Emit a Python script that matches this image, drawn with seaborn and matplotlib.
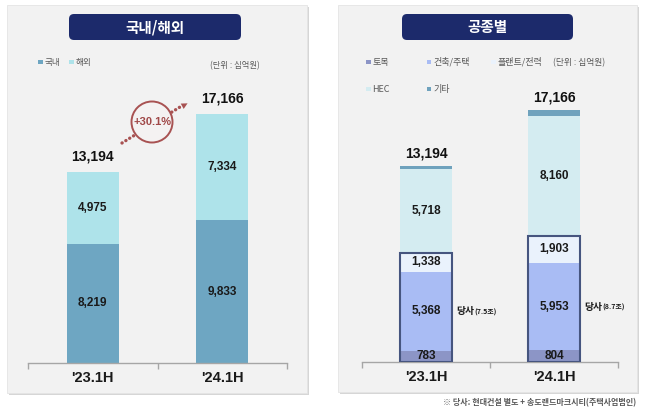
import numpy as np
import pandas as pd
import matplotlib
matplotlib.use("Agg")
import matplotlib.pyplot as plt
import matplotlib.patches as mpatches
from matplotlib.lines import Line2D
import seaborn as sns

# ---------------------------------------------------------------------------
# Data (십억원)
# ---------------------------------------------------------------------------
periods = ["'23.1H", "'24.1H"]

# 국내/해외
domestic = [8219, 9833]
overseas = [4975, 7334]
totals = [13194, 17166]
growth_label = "+30.1%"

# 공종별
civil = [783, 804]          # 토목
building = [5368, 5953]     # 건축/주택
plant = [1338, 1903]        # 플랜트/전력
hec = [5718, 8160]          # HEC
etc = [250, 450]            # 기타 (thin band)
own_labels = ["(7.5조)", "(8.7조)"]

C_DOM = "#6ea6c2"
C_OVS = "#aee3ea"
C_CIVIL = "#8c95c6"
C_BUILD = "#a9bcf4"
C_PLANT = "#eaf2fc"
C_HEC = "#d4ecf1"
C_ETC = "#6fa2bd"
NAVY = "#1c2a6b"
GRAY_TXT = "#595959"
RED = "#a85252"

sns.set_style("white")
plt.rcParams["font.family"] = ["Liberation Sans", "Noto Sans CJK KR"]

W, H = 645, 411
fig = plt.figure(figsize=(W / 100, H / 100), dpi=100)
fig.patch.set_facecolor("white")


def px(x, y):
    """top-left pixel -> inches (for dpi_scale_trans)"""
    return x / 100, (H - y) / 100


def panel(x0, y0, x1, y1):
    sx, sy = px(x0 + 2, y1 + 2)
    fig.add_artist(mpatches.Rectangle((sx, sy), (x1 - x0) / 100, (y1 - y0) / 100,
                                      transform=fig.dpi_scale_trans, fc="#d6d6d6",
                                      ec="none", zorder=-2))
    bx, by = px(x0, y1)
    fig.add_artist(mpatches.Rectangle((bx, by), (x1 - x0) / 100, (y1 - y0) / 100,
                                      transform=fig.dpi_scale_trans, fc="#f2f2f2",
                                      ec="#e4e4e4", lw=0.6, zorder=-1))


def title_box(x0, x1, text):
    bx, by = px(x0, 40)
    fig.add_artist(mpatches.FancyBboxPatch((bx, by), (x1 - x0) / 100, 0.26,
                                           boxstyle="round,pad=0,rounding_size=0.05",
                                           transform=fig.dpi_scale_trans, fc=NAVY,
                                           ec="none", zorder=-0.5))
    cx, cy = px((x0 + x1) / 2, 27)
    fig.text(cx / (W / 100), cy / (H / 100), text, color="white", fontsize=10.5,
             fontweight="bold", ha="center", va="center", family="Noto Sans CJK KR")


def legend_item(x, y, color, label, size=6.2):
    fig.add_artist(mpatches.Rectangle(px(x, y + 2.2), 0.045, 0.045,
                                      transform=fig.dpi_scale_trans, fc=color,
                                      ec="none", zorder=1))
    fig.text((x + 6.5) / W, 1 - y / H, label, color=GRAY_TXT, fontsize=size,
             ha="left", va="center", family="Noto Sans CJK KR")


def stacked(ax, layers):
    cum = np.cumsum([np.asarray(v, float) for v, _ in layers], axis=0)
    for k in range(len(layers) - 1, -1, -1):
        sns.barplot(x=periods, y=cum[k], color=layers[k][1], width=0.4,
                    saturation=1, errorbar=None, linewidth=0, ax=ax)
    return cum


def style_axis(ax):
    ax.set_facecolor("none")
    ax.set_zorder(2)
    ax.set_xlim(-0.5, 1.5)
    ax.set_ylim(0, 20000)
    for s in ["top", "left", "right"]:
        ax.spines[s].set_visible(False)
    ax.spines["bottom"].set_color("#a6a6a6")
    ax.spines["bottom"].set_linewidth(1)
    ax.set_yticks([])
    ax.set_xticks([0, 1])
    ax.set_xticklabels(periods, fontsize=10.5, fontweight="bold", color="#1a1a1a")
    ax.set_xticks([-0.5, 0.5, 1.5], minor=True)
    ax.tick_params(axis="x", which="major", length=0, pad=6, bottom=True)
    ax.tick_params(axis="x", which="minor", length=4, width=1, color="#a6a6a6",
                   direction="out", bottom=True)
    ax.set_xlabel("")
    ax.set_ylabel("")


# panels
panel(7, 5, 307, 393)
panel(338, 5, 637, 392)
title_box(69, 241, "국내/해외")
title_box(402, 573, "공종별")

# ---------------------------------------------------------------------------
# Left: 국내/해외
# ---------------------------------------------------------------------------
axL = fig.add_axes([28 / W, 48 / H, 259 / W, 290 / H])
cumL = stacked(axL, [(domestic, C_DOM), (overseas, C_OVS)])
style_axis(axL)
for i in range(2):
    axL.text(i, domestic[i] / 2, f"{domestic[i]:,}", ha="center", va="center",
             fontsize=8.5, fontweight="bold", color="#1a1a1a")
    axL.text(i, domestic[i] + overseas[i] / 2, f"{overseas[i]:,}", ha="center",
             va="center", fontsize=8.5, fontweight="bold", color="#1a1a1a")
    axL.annotate(f"{totals[i]:,}", (i, cumL[-1][i]), xytext=(0, 11),
                 textcoords="offset points", ha="center", va="center",
                 fontsize=10, fontweight="bold", color="#111111")

legend_item(38, 62, C_DOM, "국내")
legend_item(69, 62, C_OVS, "해외")
fig.text(210 / W, 1 - 66 / H, "(단위 : 십억원)", color=GRAY_TXT, fontsize=6,
         ha="left", va="center", family="Noto Sans CJK KR")

# growth arrow + circle
dotted = Line2D([1.22, 1.80], [(H - 143) / 100, (H - 107) / 100],
                transform=fig.dpi_scale_trans, color=RED, lw=2.4,
                linestyle=(0, (0.05, 1.3)), dash_capstyle="round", zorder=3)
fig.add_artist(dotted)
fig.add_artist(mpatches.FancyArrowPatch(px(179, 108), px(190, 102),
                                        transform=fig.dpi_scale_trans,
                                        arrowstyle="-|>", mutation_scale=11,
                                        color=RED, lw=0, zorder=3))
fig.add_artist(mpatches.Circle(px(152, 122), 0.205, transform=fig.dpi_scale_trans,
                               fc="#f4f2f2", ec=RED, lw=1.4, zorder=4))
cx, cy = px(152, 122)
fig.text(cx / (W / 100), cy / (H / 100), growth_label, color="#a04848",
         fontsize=8, fontweight="bold", ha="center", va="center", zorder=5)

# ---------------------------------------------------------------------------
# Right: 공종별
# ---------------------------------------------------------------------------
axR = fig.add_axes([362 / W, 49 / H, 256 / W, 292 / H])
layers = [(civil, C_CIVIL), (building, C_BUILD), (plant, C_PLANT),
          (hec, C_HEC), (etc, C_ETC)]
cumR = stacked(axR, layers)
style_axis(axR)
bottoms = np.vstack([np.zeros(2), cumR[:-1]])
for i in range(2):
    for k, (vals, _) in enumerate(layers[:4]):
        axR.text(i, bottoms[k][i] + vals[i] / 2, f"{vals[i]:,}", ha="center",
                 va="center", fontsize=8.5, fontweight="bold", color="#1a1a1a",
                 zorder=6)
    axR.add_patch(mpatches.Rectangle((i - 0.2, 0), 0.4, cumR[2][i], fill=False,
                                     ec="#46557f", lw=1.5, zorder=5))
    axR.annotate(f"{totals[i]:,}", (i, cumR[-1][i]), xytext=(0, 9),
                 textcoords="offset points", ha="center", va="center",
                 fontsize=10, fontweight="bold", color="#111111")
    y_own = civil[i] + building[i] / 2
    axR.annotate("당사", (i + 0.24, y_own), ha="left", va="center", fontsize=7,
                 fontweight="bold", color="#1a1a1a", family="Noto Sans CJK KR")
    axR.annotate(own_labels[i], (i + 0.24, y_own), xytext=(13, -0.5),
                 textcoords="offset points", ha="left", va="center", fontsize=5,
                 fontweight="bold", color="#1a1a1a", family="Noto Sans CJK KR")

legend_item(366, 62, C_CIVIL, "토목", 6.5)
legend_item(427, 62, C_BUILD, "건축/주택", 6.5)
legend_item(491, 62, C_PLANT, "플랜트/전력", 6.5)
legend_item(366, 89, C_HEC, "HEC", 6.5)
legend_item(427, 89, C_ETC, "기타", 6.5)
fig.text(553 / W, 1 - 63 / H, "(단위 : 십억원)", color=GRAY_TXT, fontsize=6.3,
         ha="left", va="center", family="Noto Sans CJK KR")

fig.text(636 / W, 1 - 403 / H, "※ 당사: 현대건설 별도 + 송도랜드마크시티(주택사업법인)",
         color=GRAY_TXT, fontsize=5.8, fontweight="bold", ha="right", va="center",
         family="Noto Sans CJK KR")

fig.savefig("out.png", dpi=100)
